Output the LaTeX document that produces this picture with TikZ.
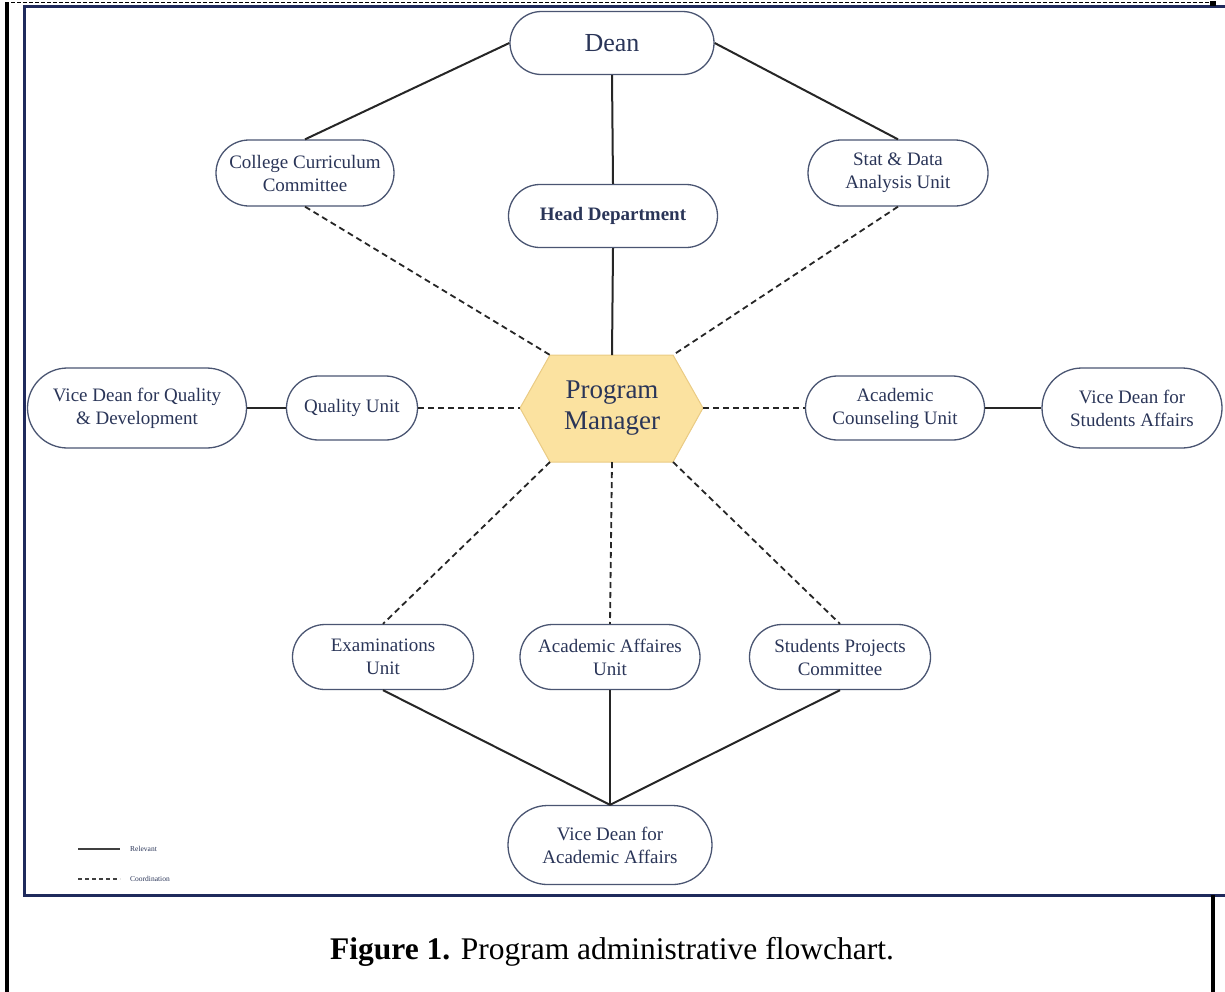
\documentclass[tikz,border=0pt]{standalone}
\usepackage{fontspec}
\setmainfont{Liberation Serif}
\usetikzlibrary{shapes.misc}
\definecolor{navy}{HTML}{1F2A5C}
\definecolor{txt}{HTML}{2A3558}
\definecolor{edgec}{HTML}{4A5572}
\definecolor{hexfill}{HTML}{FBE2A0}
\definecolor{hexdraw}{HTML}{EACB84}
\begin{document}
\begin{tikzpicture}[x=1pt,y=-1pt,
  box/.style={rounded rectangle, draw=edgec, line width=1.3pt, fill=white, text=txt,
    align=center, inner sep=0pt, font=\fontsize{19}{23}\selectfont},
  rel/.style={line width=2pt, draw=black!85},
  coordl/.style={line width=1.8pt, dash pattern=on 6pt off 4pt, draw=black!85},
  legtxt/.style={text=txt, font=\fontsize{7.5}{8}\selectfont, anchor=west, inner sep=0pt}]
\useasboundingbox (0,0) rectangle (1225,991);
% frame
\draw[navy, line width=3pt] (1240,6) -- (24,6) -- (24,895) -- (1240,895);
\draw[black, line width=0.8pt, dash pattern=on 4pt off 2pt] (5,2.5) -- (1212,2.5);
\draw[black, line width=3.5pt] (7,3) -- (7,995);
\draw[black, line width=3.5pt] (1213,895) -- (1213,995);
\fill[black] (1210,0.5) rectangle (1216,5.5);
% program manager hexagon
\coordinate (pmL) at (520,408);
\coordinate (pmTL) at (550,355);
\coordinate (pmTR) at (673,355);
\coordinate (pmR) at (703,408);
\coordinate (pmBR) at (673,462);
\coordinate (pmBL) at (550,462);
\coordinate (pmT) at (612,355);
\coordinate (pmB) at (612,462);
\filldraw[fill=hexfill, draw=hexdraw, line width=1pt] (pmL) -- (pmTL) -- (pmTR) -- (pmR) -- (pmBR) -- (pmBL) -- cycle;
\node[text=txt, align=center, font=\fontsize{27}{31}\selectfont] (pm) at (612,408) {Program\\Manager};
% nodes
\node[box, minimum width=204pt, minimum height=63pt, font=\fontsize{26}{28}\selectfont] (dean) at (612,43) {Dean};
\node[box, minimum width=178pt, minimum height=66pt] (ccc) at (305,173) {College Curriculum\\Committee};
\node[box, minimum width=209pt, minimum height=63pt, font=\fontsize{19}{23}\bfseries] (head) at (613,216) {Head Department};
\node[box, minimum width=180pt, minimum height=66pt] (stat) at (898,173) {Stat \& Data\\Analysis Unit};
\node[box, minimum width=219pt, minimum height=80pt] (vdq) at (137,408) {Vice Dean for Quality\\\& Development};
\node[box, minimum width=131pt, minimum height=64pt] (qu) at (352,408) {Quality Unit};
\node[box, minimum width=179pt, minimum height=64pt] (acu) at (895,408) {Academic\\Counseling Unit};
\node[box, minimum width=180pt, minimum height=80pt] (vds) at (1132,408) {Vice Dean for\\Students Affairs};
\node[box, minimum width=181pt, minimum height=65pt] (exam) at (383,657) {Examinations\\Unit};
\node[box, minimum width=180pt, minimum height=65pt] (aau) at (610,657) {Academic Affaires\\Unit};
\node[box, minimum width=181pt, minimum height=65pt] (spc) at (840,657) {Students Projects\\Committee};
\node[box, minimum width=204pt, minimum height=79pt] (vda) at (610,845) {Vice Dean for\\Academic Affairs};
% relevant connectors
\draw[rel] (dean.west) -- (ccc.north);
\draw[rel] (dean.east) -- (stat.north);
\draw[rel] (dean.south) -- (head.north);
\draw[rel] (head.south) -- (pmT);
\draw[rel] (vdq.east) -- (qu.west);
\draw[rel] (acu.east) -- (vds.west);
\draw[rel] (exam.south) -- (vda.north);
\draw[rel] (aau.south) -- (vda.north);
\draw[rel] (spc.south) -- (vda.north);
% coordination connectors
\draw[coordl] (ccc.south) -- (pmTL);
\draw[coordl] (stat.south) -- (pmTR);
\draw[coordl] (qu.east) -- (pmL);
\draw[coordl] (pmR) -- (acu.west);
\draw[coordl] (pmBL) -- (exam.north);
\draw[coordl] (pmB) -- (aau.north);
\draw[coordl] (pmBR) -- (spc.north);
% legend
\coordinate (l1a) at (78,849); \coordinate (l1b) at (120,849);
\coordinate (l2a) at (78,879); \coordinate (l2b) at (120,879);
\draw[line width=1.2pt, black!75] (l1a) -- (l1b);
\draw[line width=1.2pt, black!75, dash pattern=on 4pt off 3pt] (l2a) -- (l2b);
\node[legtxt] (lrel) at (130,849) {Relevant};
\node[legtxt] (lcoo) at (130,879) {Coordination};
% caption
\node[font=\fontsize{31.5}{34}\selectfont] (cap) at (612,952) {\textbf{Figure 1.} Program administrative flowchart.};
\end{tikzpicture}
\end{document}
